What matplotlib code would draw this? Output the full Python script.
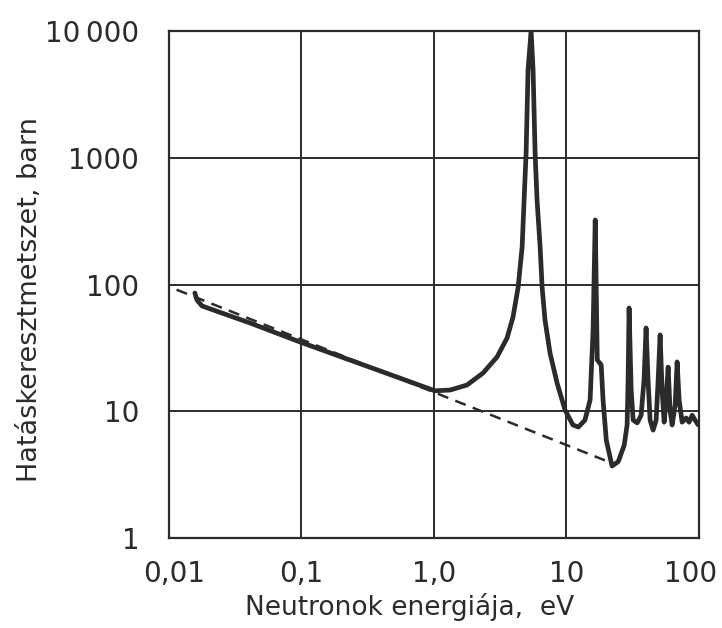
import matplotlib
matplotlib.use('Agg')
import matplotlib.pyplot as plt
from matplotlib.ticker import FixedLocator, NullLocator
from matplotlib.transforms import ScaledTranslation

# hatáskeresztmetszet görbe (eV, barn)
energia = [0.0158, 0.0164, 0.0179, 0.0412, 0.098, 0.394, 1.02, 1.33, 1.78,
           2.35, 3.0, 3.57, 3.96, 4.33, 4.64, 4.80, 4.97, 5.14, 5.42, 5.61,
           5.81, 6.01, 6.34, 6.56, 6.90, 7.53, 8.51, 9.78, 11.2, 12.3, 13.8,
           15.1, 15.9, 16.5, 17.1, 18.3, 18.9, 20.0, 22.1, 24.6, 27.3, 28.7,
           29.2, 29.7, 30.8, 31.9, 34.2, 36.6, 38.5, 39.9, 41.3, 42.8, 45.1,
           47.5, 49.2, 50.9, 52.7, 54.6, 56.5, 58.5, 60.5, 62.7, 66.1, 68.4,
           70.8, 74.6, 80.0, 84.2, 88.8, 93.5, 98.6]
hataskereszt = [85.7, 75.5, 67.7, 49.7, 35.2, 20.8, 14.5, 14.7, 16.1,
                20.0, 26.8, 37.8, 55.4, 95.5, 198, 464, 1090, 4920, 10000, 4920,
                1090, 464, 198, 95.5, 52.5, 28.8, 16.7, 10.2, 7.8, 7.5, 8.5,
                12.3, 43.8, 323, 25.4, 23.2, 12.3, 5.9, 3.7, 4.0, 5.4, 7.8,
                17.6, 65.3, 14.7, 8.5, 8.1, 9.3, 17.6, 45.4, 17.6, 8.5, 7.1,
                8.5, 17.6, 40.0, 14.7, 8.2, 12.3, 22.3, 10.2, 7.8, 11.2, 24.5,
                12.3, 8.2, 8.85, 8.2, 9.3, 8.5, 7.8]

# 1/v szakasz szaggatott folytatása
egyv_energia = [0.0115, 19.5]
egyv_hatas = [91.0, 4.1]

x_ticks = [0.01, 0.1, 1.0, 10, 100]
x_labels = ['0,01', '0,1', '1,0', '10', '100']
y_ticks = [1, 10, 100, 1000, 10000]
y_labels = ['1', '10', '100', '1000', '10\u2009000']

szin = '#2b2b2b'

fig = plt.figure(figsize=(7.22, 6.28), dpi=100)
ax = fig.add_axes([168.5 / 722, 1 - 538 / 628, 530.5 / 722, 507 / 628])

ax.plot(energia, hataskereszt, color=szin, lw=3.4,
        solid_joinstyle='round', solid_capstyle='round')
ax.plot(egyv_energia, egyv_hatas, color=szin, lw=1.8, dashes=(4.5, 3))

ax.set_xscale('log')
ax.set_yscale('log')
ax.set_xlim(0.01, 100)
ax.set_ylim(1, 10000)

ax.xaxis.set_major_locator(FixedLocator(x_ticks))
ax.yaxis.set_major_locator(FixedLocator(y_ticks))
ax.xaxis.set_minor_locator(NullLocator())
ax.yaxis.set_minor_locator(NullLocator())
ax.set_xticklabels(x_labels)
ax.set_yticklabels(y_labels)
ax.tick_params(length=0, labelsize=20, colors=szin)
ax.tick_params(axis='y', pad=21)
ax.tick_params(axis='x', pad=16)

# a szélső feliratok kissé befelé tolva, mint az eredetin
xl = ax.get_xticklabels()
xl[0].set_transform(xl[0].get_transform() + ScaledTranslation(6 / 100, 0, fig.dpi_scale_trans))
xl[-1].set_transform(xl[-1].get_transform() + ScaledTranslation(-8 / 100, 0, fig.dpi_scale_trans))

ax.grid(True, color=szin, lw=1.4)
for s in ax.spines.values():
    s.set_color(szin)
    s.set_linewidth(1.6)

fig.text(410 / 722, 1 - 607 / 628, 'Neutronok energiája,  eV', fontsize=19,
         color=szin, ha='center', va='center')
fig.text(30 / 722, 1 - 300 / 628, 'Hatáskeresztmetszet, barn', fontsize=19.5,
         color=szin, ha='center', va='center', rotation=90)

fig.savefig('out.png', dpi=100)
